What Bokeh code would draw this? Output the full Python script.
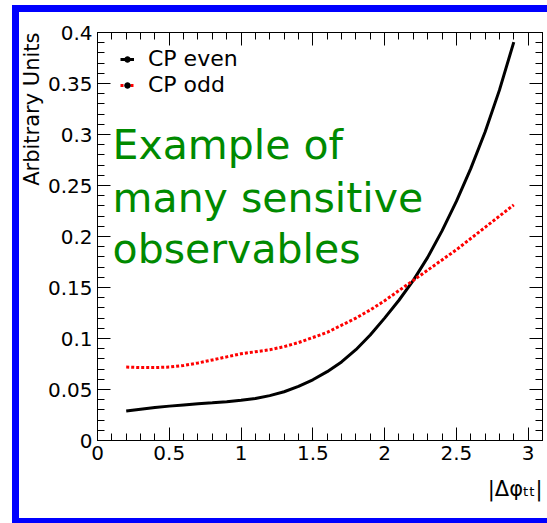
import numpy as np
from bokeh.plotting import figure
from bokeh.models import (Range1d, FixedTicker, LinearAxis, Legend, LegendItem,
                          Label, Title, ColumnDataSource, InlineStyleSheet)
from bokeh.embed import file_html
from bokeh.resources import INLINE

# ---------------- data ----------------
dphi = [0.2, 0.3, 0.4, 0.5, 0.6, 0.7, 0.8, 0.9, 1.0, 1.1, 1.2, 1.3, 1.4, 1.5,
        1.6, 1.7, 1.8, 1.9, 2.0, 2.1, 2.2, 2.3, 2.4, 2.5, 2.6, 2.7, 2.8, 2.9]
cp_even = [0.0290, 0.0307, 0.0323, 0.0337, 0.0349, 0.0360, 0.0370, 0.0381, 0.0394,
           0.0411, 0.0440, 0.0478, 0.0530, 0.0595, 0.0675, 0.0770, 0.0890, 0.1035,
           0.1200, 0.1375, 0.1570, 0.1795, 0.2055, 0.2345, 0.2665, 0.3025, 0.3435,
           0.3905]
cp_odd = [0.072, 0.0715, 0.0715, 0.072, 0.0735, 0.076, 0.079, 0.082, 0.085, 0.087,
          0.089, 0.092, 0.096, 0.101, 0.106, 0.113, 0.120, 0.128, 0.137, 0.147,
          0.157, 0.167, 0.177, 0.187, 0.198, 0.209, 0.220, 0.231]
series_labels = ["CP even", "CP odd"]

x_ticks = [0, 0.5, 1, 1.5, 2, 2.5, 3]
x_tick_labels = ["0", "0.5", "1", "1.5", "2", "2.5", "3"]
y_ticks = [0, 0.05, 0.1, 0.15, 0.2, 0.25, 0.3, 0.35, 0.4]
y_tick_labels = ["0", "0.05", "0.1", "0.15", "0.2", "0.25", "0.3", "0.35", "0.4"]
y_title = "Arbitrary Units"
x_title = "|\u0394\u03c6\u209c\u209c|"
note_lines = ["Example of", "many sensitive", "observables"]

FONT = "DejaVu Sans"
GREEN = "#008a00"

# blue frame drawn round the canvas with CSS (no layout effect)
frame_css = InlineStyleSheet(css="""
:host { position: relative; }
:host::after {
  content: ""; position: absolute; pointer-events: none; box-sizing: border-box;
  left: 12px; top: 5px; right: 0px; bottom: 0px;
  border-left: 7px solid #0000ff; border-top: 7px solid #0000ff;
  border-bottom: 5px solid #0000ff;
}
""")

# ---------------- figure ----------------
p = figure(frame_width=445, frame_height=408,
           min_border_left=97, min_border_right=5, min_border_top=32, min_border_bottom=83,
           x_range=Range1d(0, 3.1), y_range=Range1d(0, 0.4),
           output_backend="svg", toolbar_location=None,
           x_axis_location=None, y_axis_location=None)
p.stylesheets = [frame_css]
p.grid.visible = False
p.outline_line_color = "black"
p.outline_line_width = 1
p.background_fill_color = "white"
p.border_fill_color = "white"

x_minor = [round(v, 2) for v in np.arange(0, 3.11, 0.1)]
y_minor = [round(v, 3) for v in np.arange(0, 0.401, 0.01)]


def make_axis(ticks, minor, labels, show_labels):
    ax = LinearAxis(ticker=FixedTicker(ticks=ticks, minor_ticks=minor))
    ax.major_tick_in = 13
    ax.major_tick_out = 0
    ax.minor_tick_in = 7
    ax.minor_tick_out = 0
    ax.axis_line_color = "black"
    ax.major_tick_line_color = "black"
    ax.minor_tick_line_color = "black"
    ax.major_label_text_font = FONT
    ax.major_label_text_color = "black"
    ax.major_label_text_font_size = "20px"
    if show_labels:
        ax.major_label_overrides = {t: l for t, l in zip(ticks, labels)}
    else:
        ax.major_label_overrides = {t: "" for t in ticks}
        ax.major_label_standoff = 0
    return ax


xb = make_axis(x_ticks, x_minor, x_tick_labels, True)
xb.major_label_standoff = 5
yl = make_axis(y_ticks, y_minor, y_tick_labels, True)
yl.major_label_standoff = 5
xt = make_axis(x_ticks, x_minor, x_tick_labels, False)
yr = make_axis(y_ticks, y_minor, y_tick_labels, False)
p.add_layout(xb, "below")
p.add_layout(yl, "left")
p.add_layout(xt, "above")
p.add_layout(yr, "right")

# axis titles (ROOT style: at the far end of each axis)
p.add_layout(Title(text=y_title, align="right", text_font=FONT, text_font_size="21px",
                   text_font_style="normal", text_color="black", standoff=1), "left")
p.add_layout(Title(text=x_title, align="right", vertical_align="bottom", text_font=FONT,
                   text_font_size="21px", text_font_style="normal", text_color="black",
                   standoff=24), "below")

src = ColumnDataSource(dict(x=dphi, even=cp_even, odd=cp_odd))
r_even = p.line("x", "even", source=src, line_color="black", line_width=3)
r_odd = p.line("x", "odd", source=src, line_color="red", line_width=3, line_dash="3 2")
# marker shown only in the legend (NaN position is never drawn in the frame)
dot_src = ColumnDataSource(dict(x=[np.nan], y=[np.nan]))
r_dot = p.scatter("x", "y", source=dot_src, marker="circle", size=6,
                  fill_color="black", line_color="black")

legend = Legend(items=[LegendItem(label=series_labels[0], renderers=[r_even, r_dot]),
                       LegendItem(label=series_labels[1], renderers=[r_odd, r_dot])],
                location=(23, 343))
legend.glyph_width = 14
legend.glyph_height = 20
legend.label_height = 20
legend.spacing = 1
legend.padding = 0
legend.margin = 0
legend.label_standoff = 14
legend.label_text_font = FONT
legend.label_text_font_size = "22px"
legend.label_text_color = "black"
legend.border_line_alpha = 0
legend.background_fill_alpha = 0
p.add_layout(legend, "center")

# green note
for txt, yy in zip(note_lines, [0.2900, 0.2376, 0.1880]):
    p.add_layout(Label(x=0.105, y=yy, text=txt, text_font=FONT, text_font_size="41px",
                       text_color=GREEN, text_baseline="alphabetic"))

open("out.html", "w").write(file_html(p, INLINE))
